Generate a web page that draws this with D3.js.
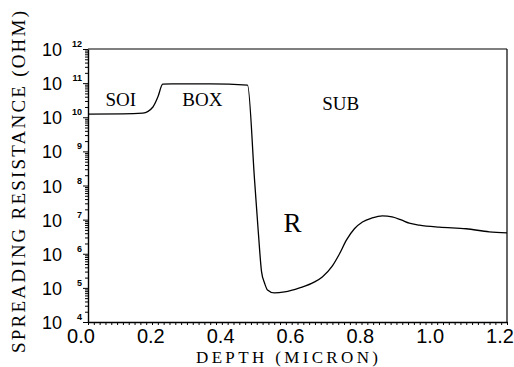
<!DOCTYPE html>
<html>
<head>
<meta charset="utf-8">
<script src="https://cdn.jsdelivr.net/npm/d3@7"></script>
<style>
  body { margin: 0; background: #fff; }
  svg { display: block; }
</style>
</head>
<body>
<div id="chart"></div>
<script>
const WIDTH = 514, HEIGHT = 367;
const MARGIN = {top: 49, right: 7, bottom: 45, left: 88};

// depth (micron) and spreading resistance (ohm)
const depth = [0.00, 0.10, 0.157, 0.186, 0.200, 0.214, 0.240, 0.350, 0.457, 0.477, 0.488, 0.497, 0.506, 0.514, 0.534,
    0.563, 0.606, 0.649, 0.671, 0.700, 0.720, 0.740, 0.763, 0.786, 0.814, 0.843, 0.871, 0.897, 0.920,
    0.949, 1.006, 1.083, 1.149, 1.200];
const resistance = [1.24e10, 1.25e10, 1.32e10, 2.0e10, 3.9e10, 9.3e10, 9.5e10, 9.5e10, 8.7e10, 1.45e8, 4.0e6, 3.0e5, 1.35e5,
    8.7e4, 7.1e4, 7.6e4, 1.0e5, 1.5e5, 2.1e5, 4.4e5, 9.8e5, 2.5e6, 5.4e6, 8.5e6, 1.12e7, 1.29e7, 1.2e7,
    9.8e6, 7.9e6, 6.9e6, 6.0e6, 5.4e6, 4.4e6, 4.1e6];

const xTicks = [0.0, 0.2, 0.4, 0.6, 0.8, 1.0, 1.2];
const yExponents = [4, 5, 6, 7, 8, 9, 10, 11, 12];
const regionLabels = [
    {text: "SOI", x: 0.05, y: 2.2e10},
    {text: "BOX", x: 0.27, y: 2.2e10},
    {text: "SUB", x: 0.671, y: 1.67e10}
];

const width = WIDTH - MARGIN.left - MARGIN.right;
const height = HEIGHT - MARGIN.top - MARGIN.bottom;

const svg = d3.select("#chart").append("svg")
    .attr("width", WIDTH)
    .attr("height", HEIGHT);

const g = svg.append("g")
    .attr("transform", "translate(" + MARGIN.left + "," + MARGIN.top + ")");

const x = d3.scaleLinear().domain([0, 1.2]).range([0, width]);
const y = d3.scaleLog().domain([1e4, 1e12]).range([height, 0]);

// frame: top and right
g.append("line")
    .attr("x1", 0).attr("x2", width).attr("y1", 0).attr("y2", 0)
    .attr("stroke", "#000").attr("stroke-width", 1.2);
g.append("line")
    .attr("x1", width).attr("x2", width).attr("y1", 0).attr("y2", height)
    .attr("stroke", "#000").attr("stroke-width", 1.2);

// x axis, small ticks every 1/60 micron
const xMinor = d3.range(0, 72 + 1).map(i => i / 60);
const xAxis = g.append("g")
    .attr("transform", "translate(0," + height + ")")
    .call(d3.axisBottom(x).tickValues(xMinor).tickSize(3).tickSizeOuter(0).tickFormat(""));
xAxis.select(".domain").attr("stroke-width", 1.4);
xAxis.selectAll(".tick line").attr("stroke-width", 1);

g.selectAll(".xlabel")
    .data(xTicks)
    .enter().append("text")
    .attr("class", "xlabel")
    .attr("x", d => x(d) - 7)
    .attr("y", height + 21)
    .attr("text-anchor", "middle")
    .attr("font-family", "Liberation Sans, Arial, sans-serif")
    .attr("font-size", 20)
    .text(d => d.toFixed(1));

// y axis, log minor ticks
const yMinor = [];
yExponents.slice(0, -1).forEach(e => {
    for (let m = 1; m < 10; m++) yMinor.push(m * Math.pow(10, e));
});
yMinor.push(1e12);
const yAxis = g.append("g")
    .call(d3.axisLeft(y).tickValues(yMinor).tickSizeOuter(0).tickFormat(""));
yAxis.select(".domain").attr("stroke-width", 1.4);
yAxis.selectAll(".tick line")
    .attr("x2", d => Math.abs(Math.log10(d) - Math.round(Math.log10(d))) < 1e-9 ? -5 : -3)
    .attr("stroke-width", 1);

const yLabels = g.selectAll(".ylabel")
    .data(yExponents)
    .enter().append("g")
    .attr("class", "ylabel")
    .attr("transform", d => "translate(0," + y(Math.pow(10, d)) + ")");
yLabels.append("text")
    .attr("x", -26)
    .attr("y", 7)
    .attr("text-anchor", "end")
    .attr("font-family", "Liberation Sans, Arial, sans-serif")
    .attr("font-size", 18)
    .text("10");
yLabels.append("text")
    .attr("x", -6)
    .attr("y", -2)
    .attr("text-anchor", "end")
    .attr("font-family", "Liberation Sans, Arial, sans-serif")
    .attr("font-weight", "bold")
    .attr("font-size", 9)
    .text(d => d);

// resistance curve
const line = d3.line()
    .x((d, i) => x(depth[i]))
    .y(d => y(d))
    .curve(d3.curveMonotoneX);

g.append("path")
    .datum(resistance)
    .attr("fill", "none")
    .attr("stroke", "#000")
    .attr("stroke-width", 1.3)
    .attr("d", line);

// region labels
g.selectAll(".region")
    .data(regionLabels)
    .enter().append("text")
    .attr("class", "region")
    .attr("x", d => x(d.x))
    .attr("y", d => y(d.y))
    .attr("font-family", "Liberation Serif, Times New Roman, serif")
    .attr("font-size", 19)
    .text(d => d.text);

g.append("text")
    .attr("x", x(0.56))
    .attr("y", y(Math.pow(10, 6.65)))
    .attr("font-family", "Liberation Serif, Times New Roman, serif")
    .attr("font-size", 27)
    .text("R");

// axis titles
svg.append("text")
    .attr("transform", "translate(25,182) rotate(-90)")
    .attr("text-anchor", "middle")
    .attr("font-family", "Liberation Serif, Times New Roman, serif")
    .attr("font-size", 19)
    .attr("textLength", 342)
    .attr("lengthAdjust", "spacing")
    .text("SPREADING RESISTANCE (OHM)");

svg.append("text")
    .attr("x", 287)
    .attr("y", 363)
    .attr("text-anchor", "middle")
    .attr("font-family", "Liberation Serif, Times New Roman, serif")
    .attr("font-size", 17)
    .attr("textLength", 182)
    .attr("lengthAdjust", "spacing")
    .text("DEPTH (MICRON)");
</script>
</body>
</html>
